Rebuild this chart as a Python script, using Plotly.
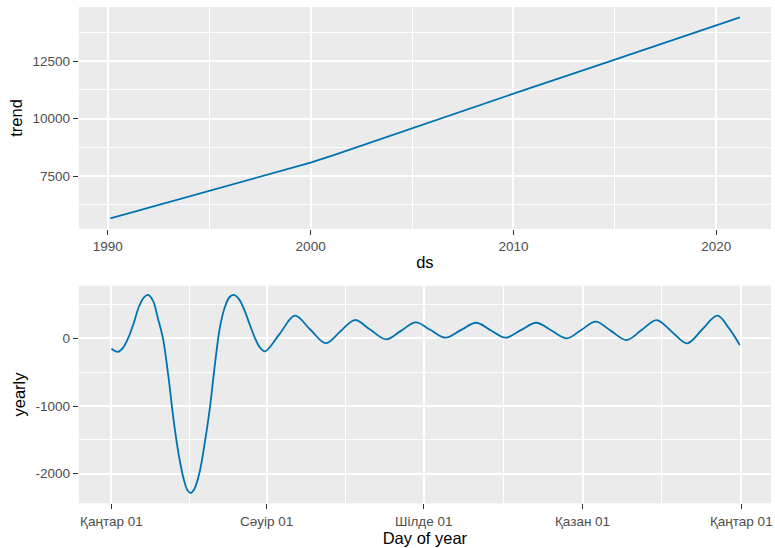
import pandas as pd
import plotly.graph_objects as go

# ---- trend component ----
trend_ds = ["1990-02-15", "1995-01-01", "1997-07-01", "1998-10-01", "2000-01-01",
            "2001-04-01", "2002-07-01", "2005-01-01", "2010-01-01", "2015-01-01",
            "2020-01-01", "2021-03-01"]
trend_vals = [5661, 6861, 7460, 7780, 8080, 8440, 8820, 9580, 11080, 12560, 14050, 14400]
trend_tick_dates = ["1990-01-01", "2000-01-01", "2010-01-01", "2020-01-01"]
trend_tick_text = ["1990", "2000", "2010", "2020"]
trend_minor_dates = ["1995-01-01", "2005-01-01", "2015-01-01"]
trend_y_ticks = [7500, 10000, 12500]
trend_y_text = ["7500", "10000", "12500"]
trend_y_minor = [6250, 8750, 11250, 13750]

# ---- yearly seasonality (day offset from 1 Jan) ----
yearly_day = [0, 2, 4, 7, 10, 13, 16, 19, 21.2, 24, 27, 30, 33, 36, 39, 42, 44, 46,
              48, 51, 54, 57, 60, 63, 66, 68.5, 70.9, 74, 77, 80, 83, 86, 89, 97.6,
              106.3, 115.2, 124.2, 132.6, 141, 150.1, 159.3, 167.8, 176.3, 185, 193.6,
              202.4, 211.3, 219.8, 228.3, 237.2, 246.2, 255, 263.9, 272.2, 280.6,
              289.5, 298.5, 307.2, 315.9, 324.7, 333.6, 342.3, 351.1, 357.8, 364.1]
yearly_vals = [-155, -188, -198, -130, 20, 230, 470, 607, 640, 560, 290, -20, -560,
               -1200, -1720, -2090, -2240, -2285, -2230, -1990, -1560, -1040, -380,
               180, 480, 610, 640, 575, 420, 215, 15, -135, -192, 70, 334, 130, -72,
               100, 270, 125, -15, 110, 236, 122, 9, 120, 230, 120, 9, 120, 230, 115,
               0, 122, 245, 110, -25, 122, 270, 98, -74, 130, 334, 150, -99]
season_tick_dates = ["2017-01-01", "2017-04-01", "2017-07-01", "2017-10-01", "2018-01-01"]
season_tick_text = ["Қаңтар 01", "Сәуір 01", "Шілде 01", "Қазан 01", "Қаңтар 01"]
season_minor_dates = ["2017-02-15", "2017-05-16 12:00", "2017-08-16", "2017-11-16"]
season_y_ticks = [-2000, -1000, 0]
season_y_text = ["-2000", "-1000", "0"]
season_y_minor = [-1500, -500, 500]

base = pd.Timestamp("2017-01-01")
yearly_x = [base + pd.Timedelta(days=d) for d in yearly_day]

W, H = 775, 548
LINE = "#0072B2"
PANEL = "#EBEBEB"
FONT = "Liberation Sans, Arial, DejaVu Sans, sans-serif"

fig = go.Figure()
fig.add_trace(go.Scatter(x=pd.to_datetime(trend_ds), y=trend_vals, mode="lines",
                         line=dict(color=LINE, width=1.8),
                         xaxis="x", yaxis="y", hoverinfo="skip"))
fig.add_trace(go.Scatter(x=yearly_x, y=yearly_vals, mode="lines",
                         line=dict(color=LINE, width=1.8, shape="spline", smoothing=1.0),
                         xaxis="x2", yaxis="y2", hoverinfo="skip"))

common = dict(showline=False, zeroline=False, showgrid=True, gridcolor="white",
              gridwidth=1.8, ticks="outside", ticklen=5, tickwidth=1.1,
              tickcolor="#333333", tickfont=dict(family=FONT, size=13.5, color="#4D4D4D"),
              title_font=dict(family=FONT, size=16.5, color="#000000"))


def minor(vals):
    return dict(tickvals=vals, showgrid=True, gridcolor="white", gridwidth=0.9, ticks="")


x_dom = [79 / W, 773 / W]
fig.update_layout(
    width=W, height=H, margin=dict(l=0, r=0, t=0, b=0),
    paper_bgcolor="white", plot_bgcolor=PANEL, showlegend=False,
    font=dict(family=FONT),
    xaxis=dict(common, domain=x_dom, anchor="y", type="date",
               range=["1988-07-27", "2022-09-13"],
               tickmode="array", tickvals=trend_tick_dates, ticktext=trend_tick_text,
               minor=minor(trend_minor_dates),
               title=dict(text="ds", standoff=3)),
    yaxis=dict(common, domain=[1 - 229 / H, 1 - 7 / H], anchor="x",
               range=[5196, 14848], tickmode="array", tickvals=trend_y_ticks,
               ticktext=trend_y_text, minor=minor(trend_y_minor),
               title=dict(text="trend", standoff=5)),
    xaxis2=dict(common, domain=x_dom, anchor="y2", type="date",
                range=[base + pd.Timedelta(days=-18.9), base + pd.Timedelta(days=382.2)],
                tickmode="array", tickvals=season_tick_dates, ticktext=season_tick_text,
                minor=minor(season_minor_dates),
                title=dict(text="Day of year", standoff=4)),
    yaxis2=dict(common, domain=[1 - 503.3 / H, 1 - 285.7 / H], anchor="x2",
                range=[-2437, 777], tickmode="array", tickvals=season_y_ticks,
                ticktext=season_y_text, minor=minor(season_y_minor),
                title=dict(text="yearly", standoff=5)),
)

fig.write_html("out.html")
